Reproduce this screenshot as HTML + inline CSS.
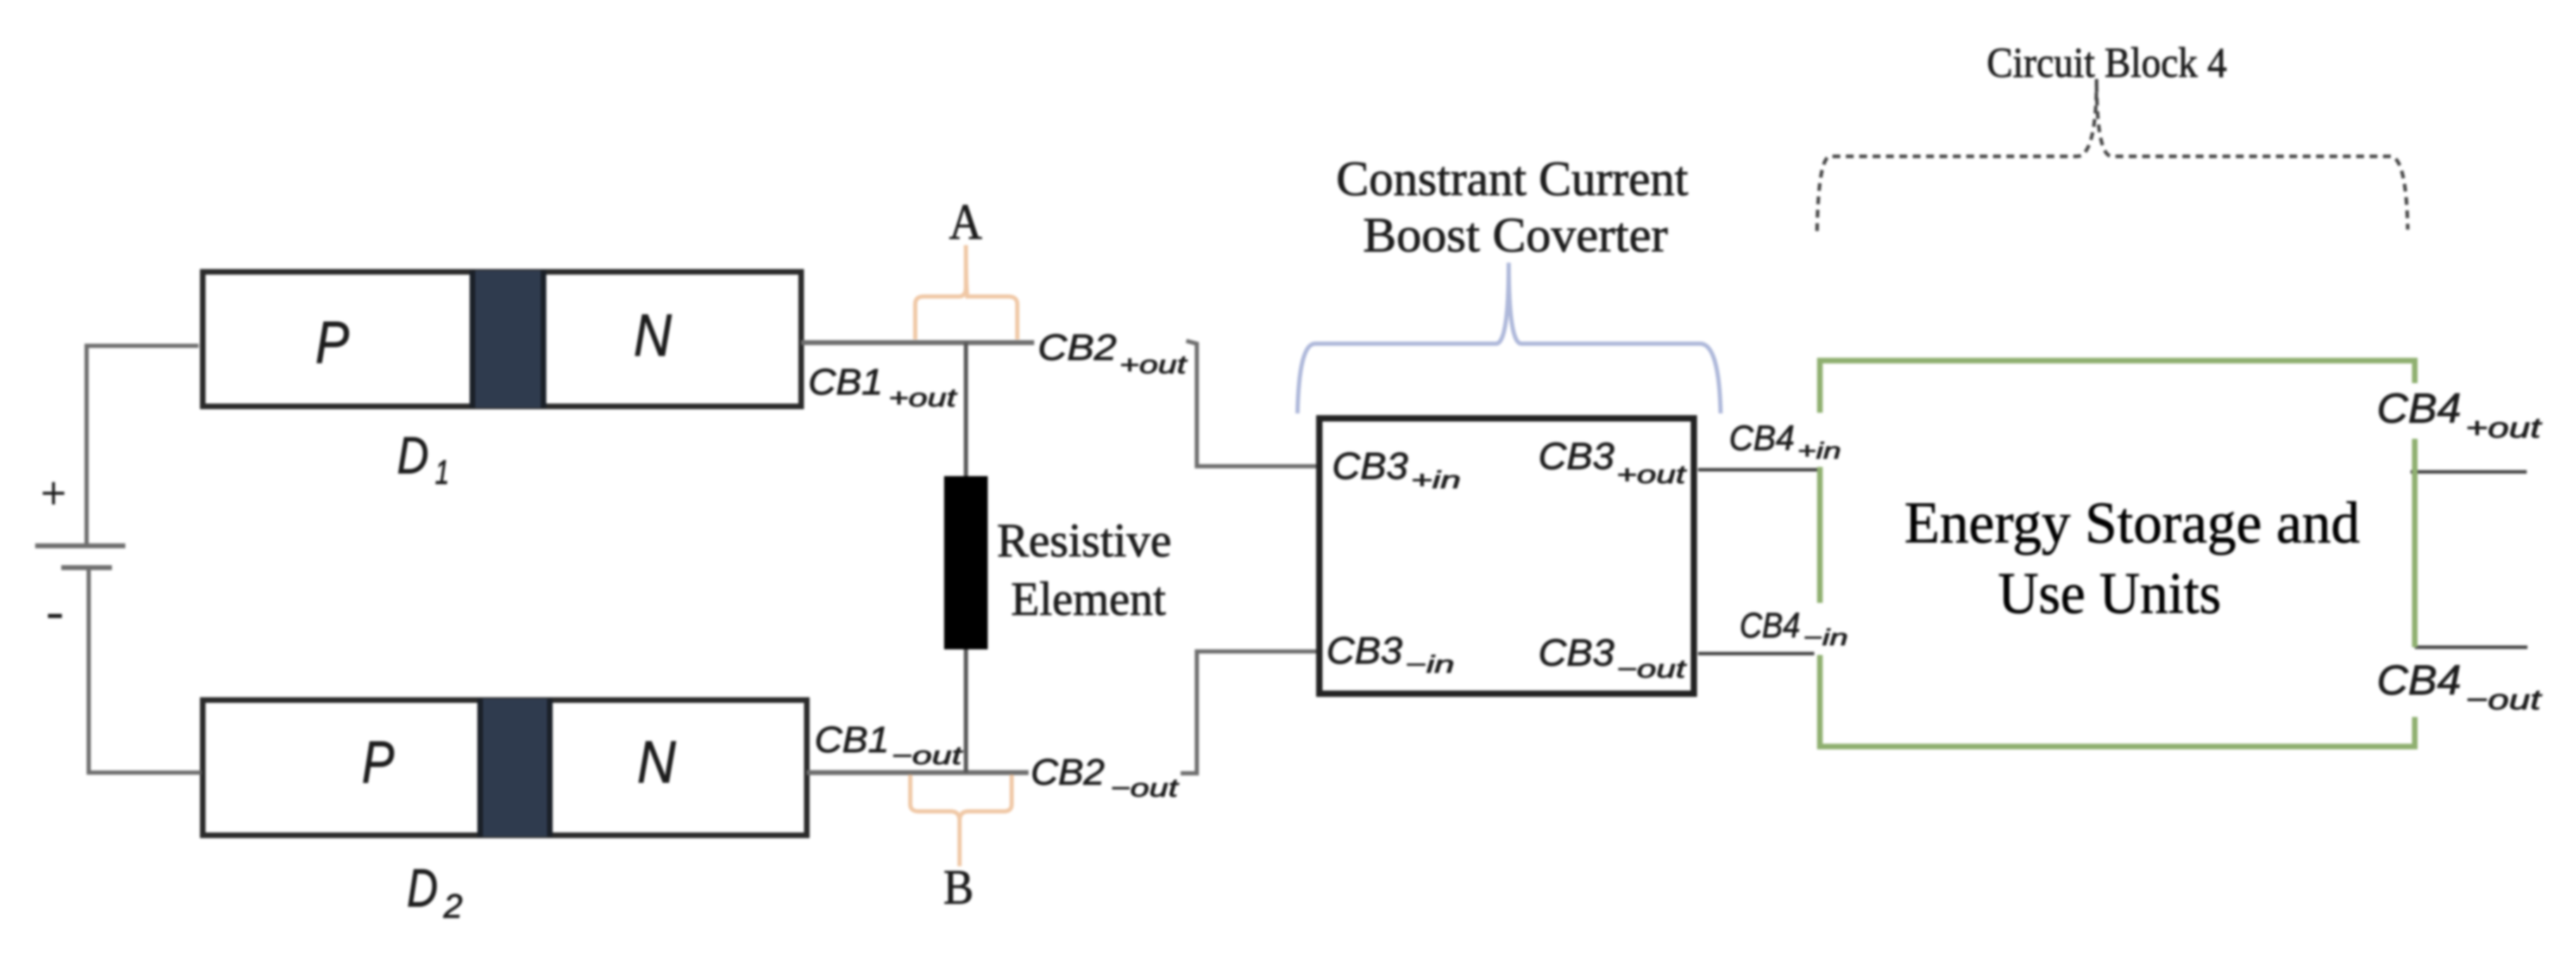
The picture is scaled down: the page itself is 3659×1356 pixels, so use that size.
<!DOCTYPE html>
<html><head><meta charset="utf-8">
<style>
html,body{margin:0;padding:0;background:#fff;width:3659px;height:1356px;overflow:hidden}
svg{display:block;filter:blur(1.5px)}
text{fill:#1c1c1c;stroke:#1c1c1c;stroke-width:1}
.s{font-family:"Liberation Serif",serif}
.m{font-family:"Liberation Sans",sans-serif;font-style:italic;fill:#2c2c2c}
</style></head><body>
<svg width="3659" height="1356" viewBox="0 0 3659 1356" xmlns="http://www.w3.org/2000/svg">
<rect width="3659" height="1356" fill="#fff"/>
<!-- diodes -->
<g fill="none" stroke="#2a2a2a" stroke-width="8">
<rect x="288" y="386" width="850" height="191"/>
<rect x="288" y="994" width="858" height="192"/>
</g>
<rect x="667" y="384" width="108" height="195" fill="#2f3b4e"/>
<rect x="667" y="384" width="8" height="195" fill="#1a2028"/><rect x="768" y="384" width="8" height="195" fill="#1a2028"/>
<rect x="678" y="992" width="106" height="196" fill="#2f3b4e"/>
<rect x="678" y="992" width="8" height="196" fill="#1a2028"/><rect x="777" y="992" width="8" height="196" fill="#1a2028"/>
<!-- wires -->
<g fill="none" stroke="#6e6e6e" stroke-width="6">
<path d="M282 491H123V775"/>
<path d="M286 1097H126V806"/>
<path d="M50 775H178" stroke-width="7"/>
<path d="M87 806H159" stroke-width="7"/>
<path d="M1138 486.500H1469" stroke-width="7"/>
<path d="M1146 1097H1461" stroke-width="7"/>
<path d="M1372 486V1097" stroke="#555"/>
<path d="M1685 484L1700 488V662H1870"/>
<path d="M1677 1098H1700V925H1870"/>
<path d="M2412 667H2581" stroke="#444" stroke-width="5"/>
<path d="M2412 928H2577" stroke="#444" stroke-width="5"/>
<path d="M3424 670H3589" stroke="#444" stroke-width="5"/>
<path d="M3430 919H3590" stroke="#444" stroke-width="5"/>
</g>
<rect x="1341" y="676" width="62" height="246" fill="#000"/>
<!-- CB3 box -->
<rect x="1874" y="594" width="532" height="391" fill="none" stroke="#222" stroke-width="9"/>
<!-- green -->
<g fill="none" stroke="#8fb070" stroke-width="8">
<path d="M2585 586V512H3430V544"/>
<path d="M2585 663V856"/>
<path d="M2585 930V1060H3430V1018"/>
<path d="M3430 623V919"/>
</g>
<!-- orange brackets -->
<g fill="none" stroke="#f0c8a6" stroke-width="6">
<path d="M1300 482V432Q1300 421 1312 421H1362Q1372 421 1372 408V348Q1372 408 1374 421H1432Q1445 421 1445 432V482"/>
<path d="M1293 1100V1142Q1293 1152 1305 1152H1350Q1363 1152 1363 1165V1230V1165Q1363 1152 1376 1152H1426Q1437 1152 1437 1142V1100"/>
</g>
<!-- blue brace -->
<path d="M1843 587Q1845 488 1868 488H2125Q2143 488 2143 373Q2143 488 2161 488H2415Q2442 488 2444 587" fill="none" stroke="#aeb8da" stroke-width="6"/>
<!-- dashed brace -->
<path d="M2581 328Q2583 222 2600 222H2950Q2978 222 2978 112Q2978 222 3000 222H3395Q3418 222 3420 326" fill="none" stroke="#444" stroke-width="5" stroke-dasharray="11 8"/>
<!-- serif text -->
<g class="s">
<text x="1348" y="339" font-size="72" textLength="47" lengthAdjust="spacingAndGlyphs">A</text>
<text x="1340" y="1283" font-size="70" textLength="43" lengthAdjust="spacingAndGlyphs">B</text>
<text x="1416" y="790" font-size="68" textLength="248" lengthAdjust="spacingAndGlyphs">Resistive</text>
<text x="1436" y="873" font-size="68" textLength="220" lengthAdjust="spacingAndGlyphs">Element</text>
<text x="1898" y="277" font-size="70" textLength="500" lengthAdjust="spacingAndGlyphs">Constrant Current</text>
<text x="1936" y="357" font-size="70" textLength="433" lengthAdjust="spacingAndGlyphs">Boost Coverter</text>
<text x="2822" y="109" font-size="60" textLength="341" lengthAdjust="spacingAndGlyphs">Circuit Block 4</text>
<text x="2705" y="770" font-size="84" textLength="647" lengthAdjust="spacingAndGlyphs" style="fill:#000">Energy Storage and</text>
<text x="2838" y="870" font-size="84" textLength="317" lengthAdjust="spacingAndGlyphs" style="fill:#000">Use Units</text>
</g>
<text class="s" x="58" y="722" font-size="66" textLength="36" lengthAdjust="spacingAndGlyphs">+</text>
<text class="s" x="66" y="890" font-size="66" textLength="24" lengthAdjust="spacingAndGlyphs">-</text>
<!-- math text -->
<g class="m">
<text x="448" y="515" font-size="84" textLength="48" lengthAdjust="spacingAndGlyphs">P</text>
<text x="900" y="505" font-size="84" textLength="54" lengthAdjust="spacingAndGlyphs">N</text>
<text x="514" y="1111" font-size="84" textLength="46" lengthAdjust="spacingAndGlyphs">P</text>
<text x="905" y="1111" font-size="84" textLength="55" lengthAdjust="spacingAndGlyphs">N</text>
<text x="564" y="672" font-size="74" textLength="45" lengthAdjust="spacingAndGlyphs">D</text>
<text x="618" y="687" font-size="48" textLength="20" lengthAdjust="spacingAndGlyphs">1</text>
<text x="578" y="1287" font-size="76" textLength="44" lengthAdjust="spacingAndGlyphs">D</text>
<text x="630" y="1303" font-size="48" textLength="27" lengthAdjust="spacingAndGlyphs">2</text>

<text x="1148" y="560" font-size="52" textLength="106" lengthAdjust="spacingAndGlyphs">CB1</text>
<text x="1262" y="577" font-size="36" textLength="96" lengthAdjust="spacingAndGlyphs">+out</text>
<text x="1157" y="1068" font-size="52" textLength="106" lengthAdjust="spacingAndGlyphs">CB1</text>
<text x="1266" y="1085" font-size="36" textLength="100" lengthAdjust="spacingAndGlyphs">−out</text>
<text x="1474" y="511" font-size="52" textLength="112" lengthAdjust="spacingAndGlyphs">CB2</text>
<text x="1590" y="530" font-size="36" textLength="95" lengthAdjust="spacingAndGlyphs">+out</text>
<text x="1464" y="1114" font-size="52" textLength="105" lengthAdjust="spacingAndGlyphs">CB2</text>
<text x="1577" y="1131" font-size="36" textLength="96" lengthAdjust="spacingAndGlyphs">−out</text>

<text x="1892" y="680" font-size="54" textLength="108" lengthAdjust="spacingAndGlyphs">CB3</text>
<text x="2004" y="693" font-size="34" textLength="71" lengthAdjust="spacingAndGlyphs">+in</text>
<text x="2185" y="666" font-size="54" textLength="108" lengthAdjust="spacingAndGlyphs">CB3</text>
<text x="2296" y="686" font-size="36" textLength="98" lengthAdjust="spacingAndGlyphs">+out</text>
<text x="1884" y="942" font-size="54" textLength="108" lengthAdjust="spacingAndGlyphs">CB3</text>
<text x="1996" y="955" font-size="34" textLength="70" lengthAdjust="spacingAndGlyphs">−in</text>
<text x="2185" y="945" font-size="54" textLength="108" lengthAdjust="spacingAndGlyphs">CB3</text>
<text x="2296" y="962" font-size="36" textLength="98" lengthAdjust="spacingAndGlyphs">−out</text>

<text x="2456" y="639" font-size="50" textLength="93" lengthAdjust="spacingAndGlyphs">CB4</text>
<text x="2553" y="651" font-size="32" textLength="62" lengthAdjust="spacingAndGlyphs">+in</text>
<text x="2471" y="905" font-size="50" textLength="86" lengthAdjust="spacingAndGlyphs">CB4</text>
<text x="2561" y="916" font-size="32" textLength="64" lengthAdjust="spacingAndGlyphs">−in</text>
<text x="3376" y="600" font-size="59" textLength="120" lengthAdjust="spacingAndGlyphs">CB4</text>
<text x="3502" y="621" font-size="40" textLength="107" lengthAdjust="spacingAndGlyphs">+out</text>
<text x="3376" y="986" font-size="59" textLength="120" lengthAdjust="spacingAndGlyphs">CB4</text>
<text x="3502" y="1007" font-size="40" textLength="107" lengthAdjust="spacingAndGlyphs">−out</text>
</g>
</svg>
</body></html>
